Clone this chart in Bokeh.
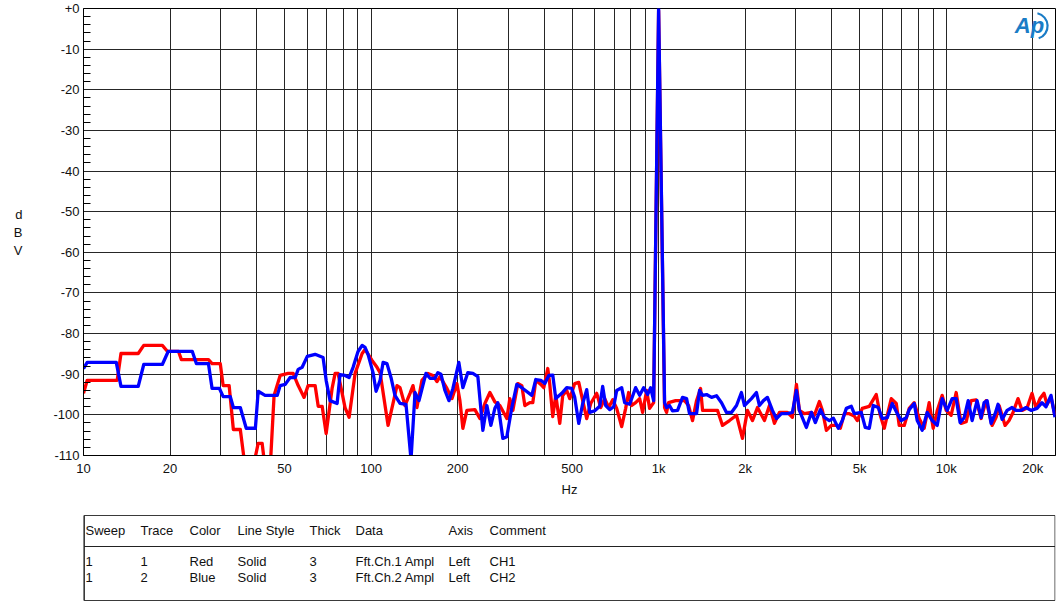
from bokeh.plotting import figure
from bokeh.models import Range1d, FixedTicker, Label
from bokeh.layouts import column
from bokeh.embed import file_html
from bokeh.resources import INLINE
from bokeh.core.properties import value

FONT = "Liberation Sans"

# ---------------- data ----------------
x_tick_hz = [10, 20, 50, 100, 200, 500, 1000, 2000, 5000, 10000, 20000]
x_tick_labels = ["10", "20", "50", "100", "200", "500", "1k", "2k", "5k", "10k", "20k"]
y_tick_dbv = [0, -10, -20, -30, -40, -50, -60, -70, -80, -90, -100, -110]
y_tick_labels = ["+0", "-10", "-20", "-30", "-40", "-50", "-60", "-70", "-80", "-90", "-100", "-110"]

# CH1 (red)
ch1_hz = [
    10.0, 10.3, 13.1, 13.5, 15.5, 16.2, 18.8, 19.6, 21.4, 21.9,
    27.2, 28.0, 29.9, 30.6, 32.1, 33.2, 35.1, 36.5, 38.6, 40.5,
    41.8, 42.8, 44.6, 46.0, 48.3, 51.5, 53.6, 55.8, 58.5, 60.4,
    63.9, 65.5, 67.6, 69.8, 73.2, 75.0, 76.8, 81.2, 83.9, 88.0,
    93.1, 95.3, 100.8, 104.9, 107.5, 114.6, 123.1, 126.1, 131.2, 136.6,
    139.9, 144.4, 150.3, 157.7, 164.1, 169.5, 173.6, 183.6, 191.1, 198.9,
    203.7, 208.6, 215.4, 229.7, 239.0, 248.8, 259.0, 269.5, 280.5, 296.6,
    303.8, 311.2, 323.9, 334.4, 342.6, 356.5, 365.1, 374.1, 389.3, 398.7,
    411.6, 418.1, 428.4, 438.9, 453.2, 464.1, 479.2, 490.9, 510.9, 527.6,
    544.6, 562.3, 580.6, 609.2, 629.0, 649.4, 670.6, 692.5, 714.8, 743.9,
    768.1, 786.6, 805.8, 832.0, 859.1, 879.8, 908.5, 930.6, 961.0, 1000,
    1049, 1066, 1083, 1146, 1231, 1271, 1312, 1355, 1399, 1422,
    1528, 1603, 1668, 1764, 1866, 1957, 2037, 2120, 2207, 2334,
    2429, 2528, 2631, 2805, 2919, 3015, 3087, 3213, 3399, 3481,
    3623, 3711, 3832, 3987, 4151, 4284, 4424, 4605, 4792, 4909,
    5109, 5403, 5712, 5899, 6092, 6240, 6443, 6706, 6867, 7148,
    7439, 7743, 8058, 8387, 8729, 9013, 9306, 9686, 10000, 10408,
    10833, 11274, 11734, 12212, 12711, 13229, 13769, 14445, 14915, 15280,
    16030, 16550, 17084, 17780, 18360, 19110, 19890, 20535, 21200, 21890,
    22420, 23151, 23900,
]
ch1_dbv = [
    -94.7, -91.5, -91.5, -84.9, -84.9, -82.9, -82.9, -84.4, -84.4, -86.4,
    -86.4, -87.4, -87.4, -92.8, -92.8, -103.6, -103.6, -113, -114, -107,
    -107, -113, -113, -95.2, -90.3, -89.8, -89.8, -92.8, -95.7, -92.8,
    -92.8, -97.9, -97.9, -104.6, -93.5, -89.8, -89.8, -98.2, -100.6, -89.8,
    -84.9, -83.9, -86.6, -88.3, -89.6, -102.6, -92.8, -93.3, -97.7, -94.7,
    -92.8, -98.2, -91.5, -89.8, -90.3, -91.8, -90.6, -93.5, -96.0, -92.3,
    -96.5, -103.3, -98.9, -98.7, -100.9, -97.2, -94.5, -96.8, -97.7, -100.9,
    -96.0, -98.9, -92.3, -92.8, -97.7, -97.0, -97.0, -91.5, -92.5, -93.3,
    -88.6, -92.3, -100.4, -95.2, -102.1, -95.2, -94.0, -96.0, -92.3, -92.0,
    -96.5, -100.9, -97.2, -94.7, -98.2, -96.0, -98.2, -96.3, -98.4, -102.9,
    -98.4, -94.5, -97.7, -97.0, -96.0, -99.4, -94.0, -98.4, -97.0, -0.5,
    -98.2, -99.4, -97.0, -96.5, -96.5, -97.7, -101.4, -96.5, -93.5, -98.9,
    -98.9, -98.9, -102.6, -101.4, -100.1, -105.8, -98.9, -101.4, -98.2, -101.4,
    -97.7, -102.1, -99.4, -99.4, -100.6, -92.5, -98.9, -99.7, -99.4, -100.1,
    -96.7, -98.9, -103.8, -102.6, -102.6, -103.3, -99.7, -99.7, -100.3, -101.4,
    -98.4, -97.9, -95.0, -100.1, -103.3, -100.1, -96.0, -97.2, -102.6, -102.6,
    -98.4, -97.0, -100.9, -103.3, -97.0, -103.3, -99.0, -95.2, -98.9, -100.1,
    -94.5, -102.1, -101.7, -96.5, -96.3, -100.9, -96.5, -102.6, -100.6, -97.7,
    -102.6, -101.4, -99.4, -96.0, -98.9, -98.3, -94.7, -98.4, -96.0, -94.7,
    -97.4, -95.7, -100.1,
]

# CH2 (blue)
ch2_hz = [
    10.0, 10.3, 13.0, 13.5, 15.5, 16.2, 18.8, 19.7, 23.9, 24.7,
    27.2, 28.0, 29.7, 30.6, 32.4, 33.2, 35.1, 36.8, 39.6, 40.5,
    42.8, 47.2, 48.3, 50.3, 52.3, 54.5, 55.8, 57.6, 60.0, 63.9,
    68.1, 69.8, 72.0, 76.2, 78.0, 81.2, 83.9, 86.6, 90.1, 93.1,
    95.3, 97.6, 101.6, 104.1, 107.5, 110.1, 113.6, 117.3, 121.1, 126.1,
    132.3, 137.7, 142.2, 146.8, 155.2, 160.3, 166.8, 170.8, 175.0, 180.7,
    186.6, 192.6, 202.0, 208.6, 217.1, 226.0, 235.2, 244.8, 252.8, 261.0,
    269.5, 276.0, 287.3, 296.6, 308.7, 321.3, 337.1, 362.3, 374.1, 389.3,
    401.9, 415.1, 428.4, 438.9, 460.5, 479.2, 498.8, 510.9, 527.6, 544.6,
    562.3, 576.0, 599.5, 624.0, 639.0, 654.6, 675.9, 697.9, 714.8, 743.9,
    762.0, 793.1, 832.0, 859.1, 886.8, 915.7, 938.1, 961.0, 1000, 1049,
    1066, 1091, 1118, 1164, 1211, 1251, 1281, 1355, 1388, 1422,
    1468, 1528, 1590, 1655, 1722, 1792, 1866, 1941, 1989, 2103,
    2189, 2242, 2315, 2390, 2488, 2569, 2674, 2805, 2919, 3015,
    3087, 3264, 3399, 3508, 3651, 3770, 3924, 4052, 4217, 4354,
    4496, 4679, 4792, 5067, 5232, 5403, 5579, 5806, 5995, 6240,
    6494, 6759, 6979, 7264, 7439, 7743, 7931, 8254, 8591, 8942,
    9306, 9686, 10080, 10490, 10833, 11180, 11550, 11930, 12310, 12810,
    13229, 13550, 13880, 14330, 14800, 15150, 15650, 16290, 16950, 17500,
    18210, 18960, 19730, 20700, 21540, 22240, 23150, 23900,
]
ch2_dbv = [
    -88.6, -87.1, -87.1, -93.0, -93.0, -87.6, -87.6, -84.4, -84.4, -87.4,
    -87.4, -93.5, -93.5, -95.5, -95.5, -98.2, -98.2, -103.3, -103.3, -94.2,
    -95.2, -95.2, -92.8, -92.5, -90.8, -90.8, -88.8, -88.3, -85.6, -85.1,
    -85.9, -91.5, -96.5, -97.2, -90.1, -90.3, -90.8, -88.3, -84.4, -82.9,
    -83.4, -85.1, -89.6, -94.2, -91.5, -87.1, -87.4, -90.8, -95.2, -97.2,
    -97.4, -111, -94.5, -96.5, -89.8, -91.0, -91.0, -89.6, -90.0, -94.0,
    -96.5, -93.5, -87.1, -93.3, -89.6, -89.8, -90.6, -103.8, -97.7, -102.6,
    -98.4, -97.0, -105.8, -105.4, -98.2, -92.5, -93.5, -95.2, -91.3, -91.5,
    -92.3, -90.3, -90.2, -96.0, -94.7, -93.3, -93.5, -95.7, -102.1, -97.2,
    -93.8, -99.4, -99.0, -97.9, -93.0, -97.7, -98.7, -98.0, -94.0, -93.3,
    -97.0, -97.4, -93.3, -95.2, -93.3, -95.0, -93.3, -96.5, 0.0, -97.0,
    -98.2, -97.7, -99.0, -98.9, -95.7, -96.0, -99.7, -99.7, -94.0, -95.2,
    -95.0, -95.7, -95.3, -97.0, -99.4, -99.4, -97.7, -94.5, -97.7, -96.0,
    -94.5, -97.7, -96.5, -95.7, -98.9, -100.9, -99.7, -99.7, -99.4, -94.0,
    -98.9, -103.1, -99.4, -101.9, -98.7, -100.6, -101.4, -100.8, -103.3, -101.4,
    -98.4, -97.9, -99.7, -99.4, -103.1, -103.3, -97.7, -98.2, -100.9, -100.7,
    -97.2, -99.7, -101.4, -100.7, -98.7, -97.2, -101.4, -103.8, -99.4, -101.4,
    -102.6, -96.0, -98.9, -96.0, -96.0, -101.9, -100.7, -96.5, -101.4, -96.5,
    -100.7, -97.0, -96.5, -102.1, -99.7, -97.4, -101.1, -98.9, -98.2, -98.9,
    -98.9, -98.2, -98.9, -98.4, -97.0, -98.0, -95.2, -100.6,
]

table_header = ["Sweep", "Trace", "Color", "Line Style", "Thick", "Data", "Axis", "Comment"]
table_row_1 = ["1", "1", "Red", "Solid", "3", "Fft.Ch.1 Ampl", "Left", "CH1"]
table_row_2 = ["1", "2", "Blue", "Solid", "3", "Fft.Ch.2 Ampl", "Left", "CH2"]

assert len(ch1_hz) == len(ch1_dbv), (len(ch1_hz), len(ch1_dbv))
assert len(ch2_hz) == len(ch2_dbv), (len(ch2_hz), len(ch2_dbv))

# ---------------- main plot ----------------
W = 1057
BL, BR = 83, 2
GRID = "#262626"
LOGO = "#1a7cc6"

p = figure(width=W, height=505, x_axis_type="log",
           x_range=Range1d(10, 24000), y_range=Range1d(-110, 0),
           output_backend="svg", toolbar_location=None,
           min_border_left=BL, min_border_right=BR, min_border_top=8, min_border_bottom=50,
           background_fill_color="white", border_fill_color="white")
p.outline_line_color = "black"
p.outline_line_width = 1

minor_x = [m * d for d in (10, 100, 1000, 10000) for m in range(1, 10)
           if (m * d) not in x_tick_hz and 10 < m * d < 24000]
xt = FixedTicker(ticks=x_tick_hz, minor_ticks=minor_x)
p.xaxis.ticker = xt
p.xgrid.ticker = xt
p.xaxis.major_label_overrides = dict(zip(x_tick_hz, x_tick_labels))

minor_y = [v for v in range(-108, 0, 2) if v % 10 != 0]
yt = FixedTicker(ticks=y_tick_dbv, minor_ticks=minor_y)
p.yaxis.ticker = yt
p.ygrid.ticker = yt
p.yaxis.major_label_overrides = dict(zip(y_tick_dbv, y_tick_labels))

p.xgrid.grid_line_color = GRID
p.xgrid.minor_grid_line_color = GRID
p.ygrid.grid_line_color = GRID
p.ygrid.minor_grid_line_color = None

for ax in (p.xaxis, p.yaxis):
    ax.axis_line_color = "black"
    ax.major_tick_in = 0
    ax.major_tick_out = 0
    ax.major_label_text_font = FONT
    ax.major_label_text_font_size = "13px"
    ax.major_label_text_color = "#111111"
    ax.axis_label_text_font = FONT
    ax.axis_label_text_font_size = "13px"
    ax.axis_label_text_font_style = "normal"
    ax.axis_label_text_color = "#111111"

p.xaxis.minor_tick_in = 0
p.xaxis.minor_tick_out = 0
p.xaxis.major_label_standoff = 5
p.xaxis.axis_label = "Hz"
p.xaxis.axis_label_standoff = 3

p.yaxis.minor_tick_in = 7
p.yaxis.minor_tick_out = 0
p.yaxis.minor_tick_line_color = "black"
p.yaxis.major_label_standoff = 4
p.yaxis.axis_label = "d\nB\nV"
p.yaxis.axis_label_orientation = "horizontal"
p.yaxis.axis_label_standoff = 28

p.line(ch1_hz, ch1_dbv, line_color="#ff0000", line_width=3.3, line_join="round")
p.line(ch2_hz, ch2_dbv, line_color="#0000ff", line_width=3.3, line_join="round")

# Audio Precision logo (decoration)
p.add_layout(Label(x=21900, y=-1.2, text="Ap", text_color=LOGO,
                   text_font=FONT, text_font_style="bold italic", text_font_size="22px",
                   text_align="right", text_baseline="top"))
p.arc(x=[20300], y=[-4.3], radius=13, radius_units="screen",
      start_angle=-1.25, end_angle=1.35, line_color=LOGO, line_width=2.2)

# ---------------- legend table (frame is aligned with the plot frame) ----------------
TH = 96
t = figure(width=W, height=TH, x_range=Range1d(BL, W - BR), y_range=Range1d(TH, 0),
           output_backend="svg", toolbar_location=None,
           x_axis_location=None, y_axis_location=None,
           min_border_left=BL, min_border_right=BR, min_border_top=0, min_border_bottom=0,
           background_fill_color="white", border_fill_color="white")
t.outline_line_color = None
t.grid.visible = False

box_left, box_right, box_top, box_bottom, sep_y = 83.5, 1054.5, 10, 95, 41
t.quad(left=[box_left], right=[box_right], top=[box_top], bottom=[box_bottom],
       fill_color=None, line_color="#3a3a3a", line_width=1)
t.segment(x0=[box_left], y0=[box_top], x1=[box_left], y1=[box_bottom], line_color="#3a3a3a", line_width=2)
t.segment(x0=[box_left], y0=[sep_y], x1=[box_right], y1=[sep_y], line_color="#222222", line_width=1)

col_x = [85, 140, 189, 237, 309, 355, 448, 489]
for texts, yy in ((table_header, 25), (table_row_1, 56), (table_row_2, 72)):
    t.text(x=col_x, y=[yy] * len(col_x), text=texts, text_font=value(FONT),
           text_font_size="13px", text_baseline="middle", text_align="left",
           text_color="#111111")

layout = column(p, t)
open("out.html", "w").write(file_html(layout, INLINE))
